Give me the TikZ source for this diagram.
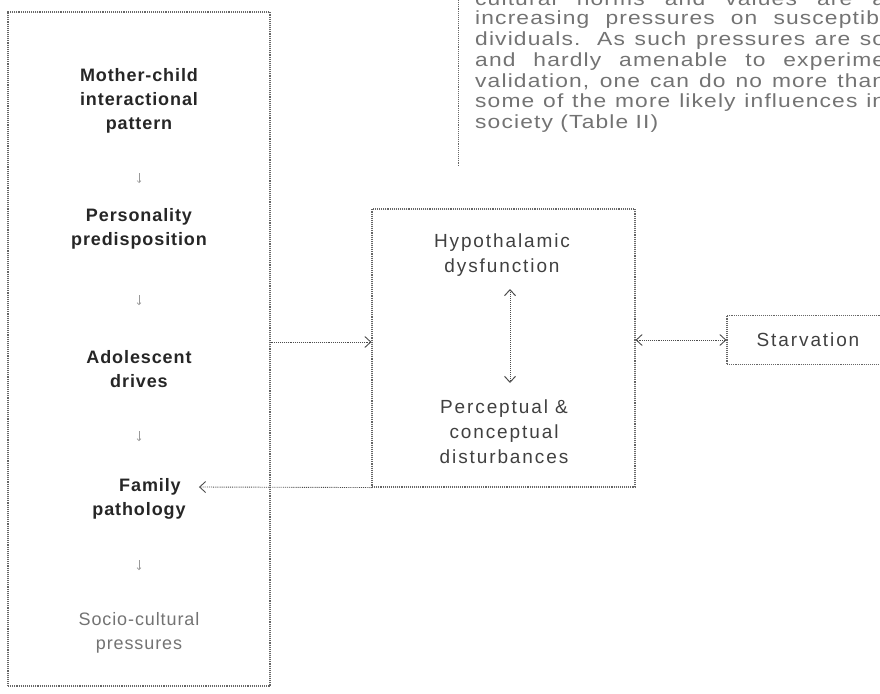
\documentclass[tikz,border=0pt]{standalone}
\usepackage{fontspec}
\setmainfont{Liberation Sans}
\newfontfamily\boxfont[LetterSpace=5]{Liberation Sans}
\newfontfamily\midfont[LetterSpace=10]{Liberation Sans}
\newfontfamily\parfont[FakeStretch=1.2,LetterSpace=6]{Liberation Sans}
\usetikzlibrary{arrows.meta}
\begin{document}
\begin{tikzpicture}[x=1pt,y=-1pt,
  frame/.style={draw=black!60, densely dotted, line width=1.1pt, rectangle, inner sep=0pt},
  conn/.style={draw=black!70, densely dotted, line width=0.9pt},
  tipend/.style={-{Straight Barb[length=6pt,width=11pt]}},
  tipboth/.style={{Straight Barb[length=6pt,width=11pt]}-{Straight Barb[length=6pt,width=11pt]}},
  lt/.style={align=center, font=\boxfont\bfseries\fontsize{18}{24}\selectfont, text=black!85, inner sep=0pt},
  mt/.style={align=center, font=\midfont\fontsize{19}{25}\selectfont, text=black!75, inner sep=0pt},
  pline/.style={anchor=west, font=\parfont\fontsize{19}{21}\selectfont, text=black!55, inner sep=0pt},
  small/.style={draw=black!40, line width=0.6pt, -{Straight Barb[length=2pt,width=4pt]}}
]
\useasboundingbox (0,0) rectangle (880,693);
\clip (0,0) rectangle (880,693);

% paragraph block at top right
\coordinate (pt) at (458,0);
\coordinate (pb) at (458,166);
\draw[conn, draw=black!60] (pt) -- (pb);
\node[pline] (p0) at (475,-1) {\makebox[410pt][s]{cultural norms and values are a}};
\node[pline] (p1) at (475,20) {\makebox[410pt][s]{increasing pressures on susceptibl}};
\node[pline] (p2) at (475,41) {\makebox[410pt][s]{dividuals. As such pressures are so}};
\node[pline] (p3) at (475,62) {\makebox[410pt][s]{and hardly amenable to experime}};
\node[pline] (p4) at (475,82) {\makebox[410pt][s]{validation, one can do no more than}};
\node[pline] (p5) at (475,103) {\makebox[410pt][s]{some of the more likely influences in}};
\node[pline] (p6) at (475,124) {society (Table II)};

% left box
\node[frame, minimum width=262pt, minimum height=674pt] (leftbox) at (139,349) {};
\node[lt] (mc) at (139,101) {Mother-child\\interactional\\pattern};
\node[lt] (pp) at (139,229) {Personality\\predisposition};
\node[lt] (ad) at (139,369) {Adolescent\\drives};
\node[lt] (fam) at (150,487) {Family};
\node[lt] (path) at (139,511) {pathology};
\node[lt, text=black!55, font=\boxfont\fontsize{18}{24}\selectfont] (sc) at (139,633) {Socio-cultural\\pressures};

% faint arrows between items
\coordinate (a1) at (139,173); \coordinate (b1) at (139,183);
\coordinate (a2) at (139,295); \coordinate (b2) at (139,305);
\coordinate (a3) at (139,431); \coordinate (b3) at (139,441);
\coordinate (a4) at (139,560); \coordinate (b4) at (139,570);
\draw[small] (a1) -- (b1);
\draw[small] (a2) -- (b2);
\draw[small] (a3) -- (b3);
\draw[small] (a4) -- (b4);

% middle box
\node[frame, minimum width=263pt, minimum height=278pt] (midbox) at (503.5,348) {};
\node[mt] (hd) at (502,255) {Hypothalamic\\dysfunction};
\node[mt] (pc) at (504,432) {Perceptual \&\\conceptual\\disturbances};
\coordinate (vt) at (510,289);
\coordinate (vb) at (510,383);
\draw[conn, tipboth, line width=1pt] (vt) -- (vb);

% starvation box
\node[frame, mt, inner sep=0pt, minimum width=162pt, minimum height=49pt] (starv) at (808,340) {Starvation};

% connectors
\coordinate (la) at ([yshift=7pt]leftbox.east);
\draw[conn, tipend] (la) -- (la -| midbox.west);
\coordinate (ra) at (midbox.east |- starv.west);
\draw[conn, tipboth] (ra) -- (starv.west);
\draw[conn, tipend] (midbox.south west) -- ([xshift=18pt]fam.east);
\end{tikzpicture}
\end{document}
